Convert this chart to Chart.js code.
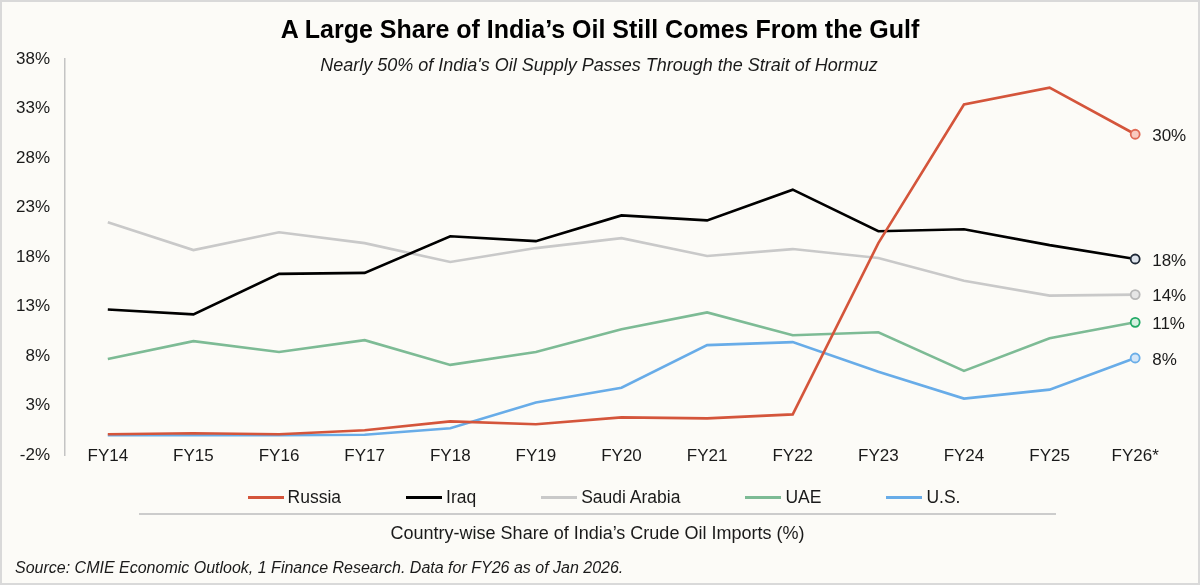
<!DOCTYPE html>
<html>
<head>
<meta charset="utf-8">
<script src="https://cdn.jsdelivr.net/npm/chart.js@4.4.1/dist/chart.umd.min.js"></script>
<style>
  html, body { margin:0; padding:0; background:#FCFBF7; }
  body { width:1200px; height:585px; position:relative; overflow:hidden; font-family:"Liberation Sans", Arial, sans-serif; color:#1a1a1a; }
  #wrap { position:absolute; left:0; top:0; width:1200px; height:585px; }
  #frame { position:absolute; left:0; top:0; width:1196px; height:581px; border:2px solid #D9D9D9; pointer-events:none; }
  .txt { position:absolute; white-space:nowrap; }
  #title { left:0; width:1200px; text-align:center; top:15px; font-size:25px; font-weight:bold; color:#000; }
  #subtitle { left:0; width:1198px; text-align:center; top:55px; font-size:18px; font-style:italic; color:#1a1a1a; }
  #legend { position:absolute; left:0; width:1208px; top:487px; display:flex; justify-content:center; gap:65px; font-size:17.5px; color:#1a1a1a; }
  #legend .item { display:flex; align-items:center; }
  #legend .sw { width:36px; height:3px; margin-right:4px; }
  #sep { position:absolute; left:139px; width:917px; top:513px; height:2px; background:#CCCCCC; }
  #caption { left:0; width:1195px; text-align:center; top:523px; font-size:18px; color:#1a1a1a; }
  #source { left:15px; top:559px; font-size:16px; font-style:italic; color:#1a1a1a; }
</style>
</head>
<body>
<div id="wrap"><canvas id="c" width="1200" height="585"></canvas></div>
<div class="txt" id="title">A Large Share of India’s Oil Still Comes From the Gulf</div>
<div class="txt" id="subtitle">Nearly 50% of India's Oil Supply Passes Through the Strait of Hormuz</div>
<div id="legend"></div>
<div id="sep"></div>
<div class="txt" id="caption">Country-wise Share of India’s Crude Oil Imports (%)</div>
<div class="txt" id="source">Source: CMIE Economic Outlook, 1 Finance Research. Data for FY26 as of Jan 2026.</div>
<div id="frame"></div>
<script>
const categories = ['FY14','FY15','FY16','FY17','FY18','FY19','FY20','FY21','FY22','FY23','FY24','FY25','FY26*'];
const russia = [0.1, 0.2, 0.1, 0.5, 1.4, 1.1, 1.8, 1.7, 2.1, 19.4, 33.4, 35.1, 30.4];
const iraq   = [12.7, 12.2, 16.3, 16.4, 20.1, 19.6, 22.2, 21.7, 24.8, 20.6, 20.8, 19.2, 17.8];
const saudi  = [21.5, 18.7, 20.5, 19.4, 17.5, 18.9, 19.9, 18.1, 18.8, 17.9, 15.6, 14.1, 14.2];
const uae    = [7.7, 9.5, 8.4, 9.6, 7.1, 8.4, 10.7, 12.4, 10.1, 10.4, 6.5, 9.8, 11.4];
const us     = [0.0, 0.0, 0.0, 0.05, 0.7, 3.3, 4.8, 9.1, 9.4, 6.4, 3.7, 4.6, 7.8];
const seriesNames = ['Russia','Iraq','Saudi Arabia','UAE','U.S.'];
const yMin = -2, yMax = 38, yStep = 5;

const lineColors   = ['#D4553B','#000000','#C9C9C9','#7DBB95','#68ACE8'];
const markerBorder = ['#E06A55','#1F2937','#B8B8B8','#22AA66','#6AAEE8'];
const markerFill   = ['#F9CABF','#DDE3EC','#E6E6E6','#D5F0E0','#D4E6F8'];
const seriesData = [russia, iraq, saudi, uae, us];

const lastIdx = categories.length - 1;
const datasets = seriesData.map((d, i) => ({
  label: seriesNames[i],
  data: d,
  borderColor: lineColors[i],
  backgroundColor: markerFill[i],
  borderWidth: 2.6,
  tension: 0,
  pointRadius: ctx => ctx.dataIndex === lastIdx ? 4.5 : 0,
  pointHoverRadius: ctx => ctx.dataIndex === lastIdx ? 4.5 : 0,
  pointBorderWidth: 1.8,
  pointBorderColor: markerBorder[i],
  pointBackgroundColor: markerFill[i]
}));

const endLabels = {
  id: 'endLabels',
  afterDatasetsDraw(chart) {
    const ctx = chart.ctx;
    ctx.save();
    ctx.font = '17px "Liberation Sans", Arial, sans-serif';
    ctx.fillStyle = '#1a1a1a';
    ctx.textAlign = 'left';
    ctx.textBaseline = 'middle';
    chart.data.datasets.forEach((ds, i) => {
      const meta = chart.getDatasetMeta(i);
      const pt = meta.data[lastIdx];
      const v = ds.data[lastIdx];
      ctx.fillText(Math.round(v) + '%', pt.x + 17, pt.y + 2);
    });
    ctx.restore();
  }
};

// lift the category labels so they sit level with the -2% row, as in the reference
const liftXLabels = {
  id: 'liftXLabels',
  afterLayout(chart) {
    const x = chart.scales.x;
    x.top -= 9;
  }
};

const chart = new Chart(document.getElementById('c'), {
  type: 'line',
  data: { labels: categories, datasets },
  options: {
    responsive: false,
    animation: false,
    layout: { padding: { left: 0, right: 22, top: 59, bottom: 100 } },
    plugins: { legend: { display: false }, tooltip: { enabled: false }, title: { display: false } },
    scales: {
      x: {
        offset: true,
        grid: { display: false, drawTicks: false },
        border: { display: false },
        ticks: { color: '#1a1a1a', font: { size: 17, family: '"Liberation Sans", Arial, sans-serif' }, padding: 0, maxRotation: 0, autoSkip: true, autoSkipPadding: 1 },
        afterFit: s => { s.height = 30; }
      },
      y: {
        min: yMin, max: yMax,
        grid: { drawTicks: false, lineWidth: 2, color: c => c.tick && c.tick.value === 0 ? '#C4C4C4' : 'rgba(0,0,0,0)' },
        border: { display: true, color: '#C4C4C4', width: 1.5 },
        ticks: { stepSize: yStep, color: '#1a1a1a', padding: 15, font: { size: 17, family: '"Liberation Sans", Arial, sans-serif' }, callback: v => v + '%' },
        afterFit: s => { s.width = 65; }
      }
    }
  },
  plugins: [endLabels, liftXLabels]
});

const legend = document.getElementById('legend');
chart.data.datasets.forEach(ds => {
  const item = document.createElement('div');
  item.className = 'item';
  const sw = document.createElement('span');
  sw.className = 'sw';
  sw.style.background = ds.borderColor;
  const t = document.createElement('span');
  t.textContent = ds.label;
  item.appendChild(sw); item.appendChild(t);
  legend.appendChild(item);
});
</script>
</body>
</html>
